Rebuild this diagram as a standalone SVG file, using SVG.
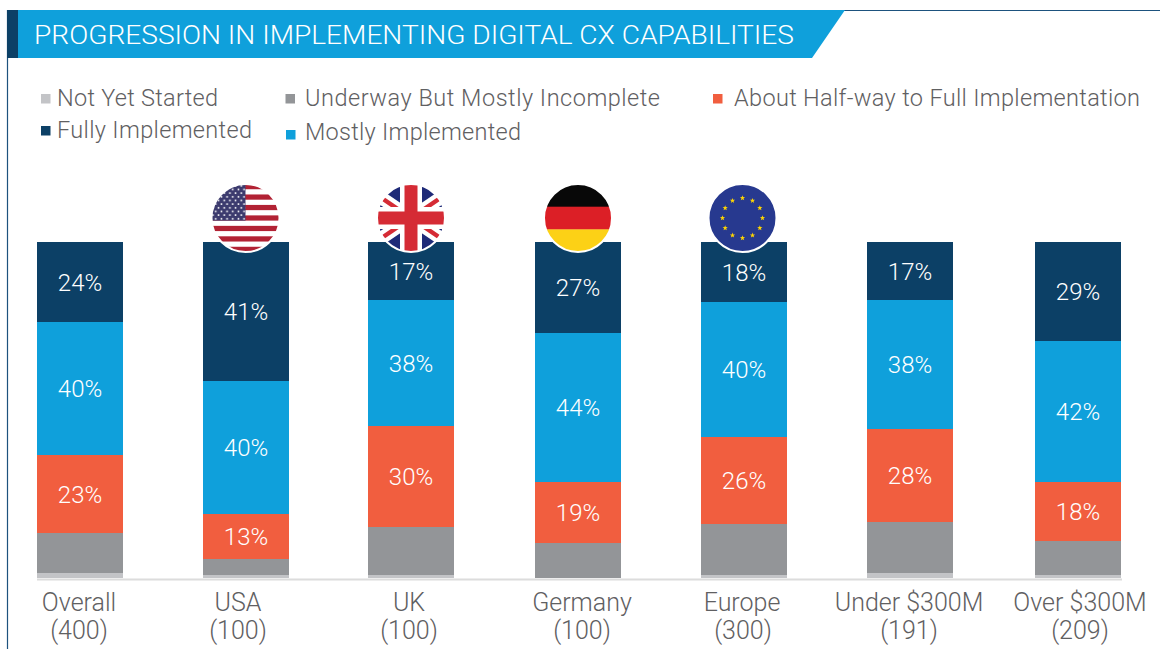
<svg xmlns="http://www.w3.org/2000/svg" width="1160" height="649" viewBox="0 0 1160 649">
<style>
.t{font-family:Roboto,"Liberation Sans",Arial,sans-serif;font-weight:300}
.pct{font-family:Roboto,"Liberation Sans",Arial,sans-serif;font-weight:300;font-size:24px;fill:#ffffff;text-anchor:middle}
.lab{font-family:Roboto,"Liberation Sans",Arial,sans-serif;font-weight:300;font-size:25px;fill:#5f6062;text-anchor:middle}
.leg{font-family:Roboto,"Liberation Sans",Arial,sans-serif;font-weight:300;font-size:23.5px;fill:#5f6062}
.fy{fill:#0c4066}.mi{fill:#0fa0db}.hw{fill:#f15e3f}.uw{fill:#939598}.ns{fill:#c3c4c7}
.ring{fill:none;stroke:#ffffff;stroke-width:2}
</style>
<defs>
<clipPath id="cc"><circle cx="0" cy="0" r="34"/></clipPath>
<pattern id="stars" patternUnits="userSpaceOnUse" x="-34" y="-34" width="5.667" height="7.32">
<circle cx="1.42" cy="1.83" r="0.95" fill="#ffffff"/>
<circle cx="4.25" cy="5.49" r="0.95" fill="#ffffff"/>
</pattern>
<polygon id="star" points="0,-2.8 0.66,-0.91 2.66,-0.87 1.07,0.35 1.65,2.27 0,1.13 -1.65,2.27 -1.07,0.35 -2.66,-0.87 -0.66,-0.91" fill="#ffd500"/>
</defs>
<rect width="1160" height="649" fill="#ffffff"/>

<g id="header">
<line x1="7" y1="10.5" x2="1160" y2="10.5" stroke="#1d527e" stroke-width="1.2"/>
<line x1="7.5" y1="10" x2="7.5" y2="649" stroke="#1d527e" stroke-width="1.2"/>
<rect x="7" y="10" width="11" height="48" fill="#0c4066"/>
<polygon points="18,10 845,10 812,58 18,58" fill="#0fa0db"/>
<text class="t" x="34" y="43.5" font-size="25" fill="#ffffff" textLength="760" lengthAdjust="spacingAndGlyphs">PROGRESSION IN IMPLEMENTING DIGITAL CX CAPABILITIES</text>
</g>

<g id="legend">
<rect class="ns" x="41" y="94" width="9.5" height="9.5"/>
<text class="leg" x="57" y="106" textLength="161">Not Yet Started</text>
<rect class="uw" x="285.5" y="94" width="9.5" height="9.5"/>
<text class="leg" x="305" y="106" textLength="355">Underway But Mostly Incomplete</text>
<rect class="hw" x="713" y="94" width="9.5" height="9.5"/>
<text class="leg" x="734" y="106" textLength="406">About Half-way to Full Implementation</text>
<rect class="fy" x="41" y="126" width="9.5" height="9.5"/>
<text class="leg" x="57" y="138" textLength="195">Fully Implemented</text>
<rect class="mi" x="286" y="130" width="9.5" height="9.5"/>
<text class="leg" x="305" y="140" textLength="216">Mostly Implemented</text>
</g>

<line id="baseline" x1="37" y1="579.5" x2="1122" y2="579.5" stroke="#dcdcdc" stroke-width="2"/>

<g id="bar-overall">
<rect class="fy" x="37" y="242" width="86" height="80"/>
<rect class="mi" x="37" y="322" width="86" height="133"/>
<rect class="hw" x="37" y="455" width="86" height="78"/>
<rect class="uw" x="37" y="533" width="86" height="40"/>
<rect class="ns" x="37" y="573" width="86" height="5"/>
<text class="pct" x="80" y="290.5">24%</text>
<text class="pct" x="80" y="397">40%</text>
<text class="pct" x="80" y="502.5">23%</text>
<text class="lab" x="79" y="610.5">Overall</text>
<text class="lab" x="79" y="638.5">(400)</text>
</g>

<g id="bar-usa">
<rect class="fy" x="203" y="242" width="86" height="139"/>
<rect class="mi" x="203" y="381" width="86" height="133"/>
<rect class="hw" x="203" y="514" width="86" height="45"/>
<rect class="uw" x="203" y="559" width="86" height="16"/>
<rect class="ns" x="203" y="575" width="86" height="3"/>
<text class="pct" x="246" y="320">41%</text>
<text class="pct" x="246" y="456">40%</text>
<text class="pct" x="246" y="545">13%</text>
<text class="lab" x="238" y="610.5">USA</text>
<text class="lab" x="238" y="638.5">(100)</text>
<g id="flag-usa" transform="translate(245.5,218)">
<g clip-path="url(#cc)">
<rect x="-40" y="-34" width="80" height="68" fill="#ffffff"/>
<rect x="-40" y="-34" width="80" height="5.23" fill="#b22234"/>
<rect x="-40" y="-23.54" width="80" height="5.23" fill="#b22234"/>
<rect x="-40" y="-13.08" width="80" height="5.23" fill="#b22234"/>
<rect x="-40" y="-2.62" width="80" height="5.23" fill="#b22234"/>
<rect x="-40" y="7.85" width="80" height="5.23" fill="#b22234"/>
<rect x="-40" y="18.31" width="80" height="5.23" fill="#b22234"/>
<rect x="-40" y="28.77" width="80" height="5.23" fill="#b22234"/>
<rect x="-40" y="-34" width="40" height="36.6" fill="#3c3b6e"/>
<rect x="-34" y="-34" width="34" height="36.6" fill="url(#stars)"/>
</g>
<circle class="ring" r="34"/>
</g>
</g>

<g id="bar-uk">
<rect class="fy" x="368" y="242" width="86" height="58"/>
<rect class="mi" x="368" y="300" width="86" height="126"/>
<rect class="hw" x="368" y="426" width="86" height="101"/>
<rect class="uw" x="368" y="527" width="86" height="48"/>
<rect class="ns" x="368" y="575" width="86" height="3"/>
<text class="pct" x="411" y="279.5">17%</text>
<text class="pct" x="411" y="371.5">38%</text>
<text class="pct" x="411" y="485">30%</text>
<text class="lab" x="409" y="610.5">UK</text>
<text class="lab" x="409" y="638.5">(100)</text>
<g id="flag-uk" transform="translate(411,218)">
<g clip-path="url(#cc)">
<rect x="-50" y="-34" width="100" height="68" fill="#1e2a78"/>
<line x1="-50" y1="-34" x2="50" y2="34" stroke="#ffffff" stroke-width="13"/>
<line x1="-50" y1="34" x2="50" y2="-34" stroke="#ffffff" stroke-width="13"/>
<line x1="-50" y1="-34" x2="50" y2="34" stroke="#d52b35" stroke-width="4.5"/>
<line x1="-50" y1="34" x2="50" y2="-34" stroke="#d52b35" stroke-width="4.5"/>
<rect x="-11" y="-34" width="22" height="68" fill="#ffffff"/>
<rect x="-50" y="-11" width="100" height="22" fill="#ffffff"/>
<rect x="-6.5" y="-34" width="13" height="68" fill="#d52b35"/>
<rect x="-50" y="-6.5" width="100" height="13" fill="#d52b35"/>
</g>
<circle class="ring" r="34"/>
</g>
</g>

<g id="bar-germany">
<rect class="fy" x="535" y="242" width="86" height="91"/>
<rect class="mi" x="535" y="333" width="86" height="149"/>
<rect class="hw" x="535" y="482" width="86" height="61"/>
<rect class="uw" x="535" y="543" width="86" height="35"/>
<text class="pct" x="578" y="296">27%</text>
<text class="pct" x="578" y="416">44%</text>
<text class="pct" x="578" y="521">19%</text>
<text class="lab" x="582" y="610.5">Germany</text>
<text class="lab" x="582" y="638.5">(100)</text>
<g id="flag-germany" transform="translate(578,218)">
<g clip-path="url(#cc)">
<rect x="-34" y="-34" width="68" height="23" fill="#080808"/>
<rect x="-34" y="-11.3" width="68" height="23" fill="#dc1f26"/>
<rect x="-34" y="11.4" width="68" height="23" fill="#fcd116"/>
</g>
<circle class="ring" r="34"/>
</g>
</g>

<g id="bar-europe">
<rect class="fy" x="701" y="242" width="86" height="60"/>
<rect class="mi" x="701" y="302" width="86" height="135"/>
<rect class="hw" x="701" y="437" width="86" height="87"/>
<rect class="uw" x="701" y="524" width="86" height="51"/>
<rect class="ns" x="701" y="575" width="86" height="3"/>
<text class="pct" x="744" y="280.5">18%</text>
<text class="pct" x="744" y="378">40%</text>
<text class="pct" x="744" y="489">26%</text>
<text class="lab" x="742" y="610.5">Europe</text>
<text class="lab" x="743" y="638.5">(300)</text>
<g id="flag-eu" transform="translate(742.5,218)">
<circle r="34" fill="#27398f"/>
<use href="#star" x="0" y="-20"/>
<use href="#star" x="10" y="-17.32"/>
<use href="#star" x="17.32" y="-10"/>
<use href="#star" x="20" y="0"/>
<use href="#star" x="17.32" y="10"/>
<use href="#star" x="10" y="17.32"/>
<use href="#star" x="0" y="20"/>
<use href="#star" x="-10" y="17.32"/>
<use href="#star" x="-17.32" y="10"/>
<use href="#star" x="-20" y="0"/>
<use href="#star" x="-17.32" y="-10"/>
<use href="#star" x="-10" y="-17.32"/>
<circle class="ring" r="34"/>
</g>
</g>

<g id="bar-under300m">
<rect class="fy" x="867" y="242" width="86" height="58"/>
<rect class="mi" x="867" y="300" width="86" height="129"/>
<rect class="hw" x="867" y="429" width="86" height="93"/>
<rect class="uw" x="867" y="522" width="86" height="51"/>
<rect class="ns" x="867" y="573" width="86" height="5"/>
<text class="pct" x="910" y="279.5">17%</text>
<text class="pct" x="910" y="373">38%</text>
<text class="pct" x="910" y="484">28%</text>
<text class="lab" x="909" y="610.5">Under $300M</text>
<text class="lab" x="909" y="638.5">(191)</text>
</g>

<g id="bar-over300m">
<rect class="fy" x="1035" y="242" width="86" height="99"/>
<rect class="mi" x="1035" y="341" width="86" height="141"/>
<rect class="hw" x="1035" y="482" width="86" height="59"/>
<rect class="uw" x="1035" y="541" width="86" height="34"/>
<rect class="ns" x="1035" y="575" width="86" height="3"/>
<text class="pct" x="1078" y="300">29%</text>
<text class="pct" x="1078" y="420">42%</text>
<text class="pct" x="1078" y="520">18%</text>
<text class="lab" x="1080" y="610.5">Over $300M</text>
<text class="lab" x="1080" y="638.5">(209)</text>
</g>
</svg>
